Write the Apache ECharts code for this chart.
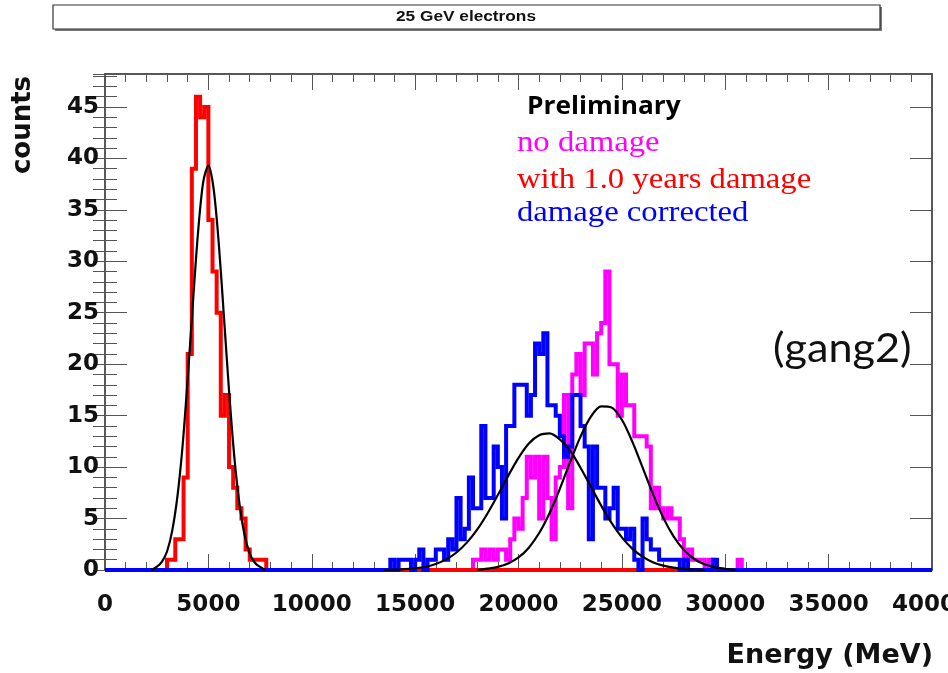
<!DOCTYPE html>
<html><head><meta charset="utf-8">
<script src="https://cdn.jsdelivr.net/npm/echarts/dist/echarts.min.js"></script>
<style>html,body{margin:0;padding:0;background:#fff}#c{width:948px;height:673px}</style>
</head><body><div id="c"></div>
<script>
// ---- data ----
const binWidth = 200;            // MeV per histogram bin
const xTicks = [0, 5000, 10000, 15000, 20000, 25000, 30000, 35000, 40000];
const yTicks = [0, 5, 10, 15, 20, 25, 30, 35, 40, 45];

// "with 1.0 years damage" (red), first bin starts at 3000 MeV
const redStart = 3000;
const redCounts = [1,1,3,3,9,21,39,46,44,45,34,29,25,15,17,10,8,6,5,2,1,1,1,1];

// "no damage" (magenta), first bin starts at 17800 MeV
const magentaStart = 17800;
const magentaCounts = [1,1,2,1,2,1,2,2,1,3,5,4,7,11,9,11,5,11,7,3,9,10,17,6,19,21,17,22,22,19,23,24,29,20,20,15,19,16,16,13,13,13,12,6,8,6,5,6,5,5,3,1,2,1,1,1,0,1,0,0,0,0,0,0,1];

// "damage corrected" (blue), first bin starts at 13800 MeV
const blueStart = 13800;
const blueCounts = [1,0,1,1,1,0,1,2,0,1,1,2,2,1,3,2,7,3,4,9,6,6,14,7,7,12,10,5,14,14,18,18,18,15,17,22,21,23,16,16,15,13,11,12,17,17,14,12,3,12,8,8,5,6,8,4,4,3,4,1,0,5,3,2,2,1,1,1,1,1,0,1,0,0,0,0,0,0,1];

// Gaussian fit curves (black)
const redFitX = [2250,2500,2750,3000,3250,3500,3750,4000,4250,4500,4750,5000,5250,5500,5750,6000,6250,6500,6750,7000,7250,7500,7750];
const redFitY = [0,0.3,0.8,1.8,3.8,7.1,12.0,18.6,25.9,32.8,37.7,39.3,37.1,31.8,24.7,17.4,11.1,6.5,3.4,1.6,0.7,0.3,0];
const blueFitX = [13500,14000,14500,15000,15500,16000,16500,17000,17500,18000,18500,19000,19500,20000,20500,21000,21500,22000,22500,23000,23500,24000,24500,25000,25500,26000,26500,27000,27500,28000,28500,29000];
const blueFitY = [0,0.04,0.08,0.17,0.32,0.59,1.03,1.7,2.66,3.92,5.49,7.28,9.15,10.9,12.3,13.1,13.27,12.7,11.6,9.94,8.1,6.26,4.58,3.17,2.08,1.3,0.76,0.43,0.23,0.11,0.05,0];
const magFitX = [18000,18500,19000,19500,20000,20500,21000,21500,22000,22500,23000,23500,24000,24500,25000,25500,26000,26500,27000,27500,28000,28500,29000,29500,30000,30500];
const magFitY = [0,0.14,0.31,0.64,1.22,2.17,3.59,5.52,7.89,10.5,12.96,14.9,15.9,15.8,14.6,12.5,9.97,7.39,5.09,3.26,1.94,1.07,0.55,0.26,0.12,0];

const xMin = 0, xMax = 40000, yMin = 0, yMax = 48.2;

// ---- build step-histogram data over the full axis range ----
function histData(start, counts) {
  const out = [];
  const nBins = Math.round((xMax - xMin) / binWidth);
  for (let i = 0; i < nBins; i++) {
    const e = xMin + i * binWidth;
    const k = Math.round((e - start) / binWidth);
    const v = (k >= 0 && k < counts.length) ? counts[k] : 0;
    out.push([e, v]);
  }
  out.push([xMax, 0]);
  return out;
}
function pairs(xs, ys) { return xs.map((x, i) => [x, ys[i]]); }

const chart = echarts.init(document.getElementById('c'), null, {renderer: 'canvas'});
const frameLine = {show: true, onZero: false, lineStyle: {color: '#222', width: 1.5}};
const tickStyle = {color: '#555', width: 1};
const labelFont = {fontFamily: 'DejaVu Sans', fontWeight: 'bold', fontSize: 23, color: '#111'};

const hist = (name, color, data) => ({
  name, type: 'line', step: 'end', data, showSymbol: false, symbol: 'none',
  xAxisIndex: 0, yAxisIndex: 0, clip: true,
  lineStyle: {color, width: 4, join: 'miter'}, itemStyle: {color}
});
const fit = (name, data) => ({
  name, type: 'line', data, smooth: 0.3, showSymbol: false, symbol: 'none',
  xAxisIndex: 0, yAxisIndex: 0, clip: true,
  lineStyle: {color: '#000', width: 2.2}, itemStyle: {color: '#000'}
});

const option = {
  animation: false,
  backgroundColor: '#fff',
  grid: {left: 105, right: 16, top: 74, bottom: 103, containLabel: false, outerBoundsMode: 'none'},
  xAxis: [
    {type: 'value', position: 'bottom', min: xMin, max: xMax, interval: 5000,
     axisLine: frameLine,
     axisTick: {show: true, inside: true, length: 16, lineStyle: tickStyle},
     minorTick: {show: true, splitNumber: 5, length: 8, lineStyle: tickStyle},
     axisLabel: Object.assign({margin: 24, hideOverlap: false, formatter: v => xTicks.includes(v) ? String(v) : ''}, labelFont),
     splitLine: {show: false}, minorSplitLine: {show: false}},
    {type: 'value', position: 'top', min: xMin, max: xMax, interval: 5000,
     axisLine: frameLine,
     axisTick: {show: true, inside: true, length: 16, lineStyle: tickStyle},
     minorTick: {show: true, splitNumber: 5, length: 8, lineStyle: tickStyle},
     axisLabel: {show: false}, splitLine: {show: false}}
  ],
  yAxis: [
    {type: 'value', position: 'left', min: yMin, max: yMax, interval: 5,
     axisLine: frameLine,
     axisTick: {show: true, inside: true, length: 22, lineStyle: tickStyle},
     axisLabel: Object.assign({margin: 6, showMaxLabel: false, formatter: v => yTicks.includes(v) ? String(v) : ''}, labelFont),
     splitLine: {show: false}},
    {type: 'value', position: 'right', min: yMin, max: yMax, interval: 5,
     axisLine: frameLine,
     axisTick: {show: true, inside: true, length: 22, lineStyle: tickStyle},
     axisLabel: {show: false}, splitLine: {show: false}},
    {type: 'value', position: 'left', min: yMin, max: yMax, interval: 1,
     axisLine: {show: false},
     axisTick: {show: true, inside: true, length: 12, lineStyle: tickStyle},
     axisLabel: {show: false}, splitLine: {show: false}},
    {type: 'value', position: 'right', min: yMin, max: yMax, interval: 1,
     axisLine: {show: false},
     axisTick: {show: true, inside: true, length: 12, lineStyle: tickStyle},
     axisLabel: {show: false}, splitLine: {show: false}}
  ],
  series: [
    hist('no damage', '#ff00ff', histData(magentaStart, magentaCounts)),
    hist('with 1.0 years damage', '#ff0000', histData(redStart, redCounts)),
    hist('damage corrected', '#0000ff', histData(blueStart, blueCounts)),
    fit('fit no damage', pairs(magFitX, magFitY)),
    fit('fit damaged', pairs(redFitX, redFitY)),
    fit('fit corrected', pairs(blueFitX, blueFitY))
  ],
  graphic: [
    {type: 'rect', shape: {x: 55, y: 7, width: 827, height: 24}, style: {fill: '#777'}, z: 1},
    {type: 'rect', shape: {x: 53, y: 5, width: 827, height: 24}, style: {fill: '#fff', stroke: '#333', lineWidth: 1.2}, z: 2},
    {type: 'text', x: 466, y: 17, scaleX: 1.15, z: 3,
     style: {text: '25 GeV electrons', font: 'bold 15px "Liberation Sans"', fill: '#111', align: 'center', verticalAlign: 'middle'}},
    {type: 'text', x: 23, y: 125, rotation: Math.PI / 2, z: 3,
     style: {text: 'counts', font: 'bold 26px "DejaVu Sans"', fill: '#111', align: 'center', verticalAlign: 'middle'}},
    {type: 'text', x: 933, y: 656, z: 3,
     style: {text: 'Energy (MeV)', font: 'bold 27px "DejaVu Sans"', fill: '#111', align: 'right', verticalAlign: 'middle'}},
    {type: 'text', x: 527, y: 107, scaleX: 1.05, z: 3,
     style: {text: 'Preliminary', font: 'bold 25px "Open Sans"', fill: '#000', align: 'left', verticalAlign: 'middle'}},
    {type: 'text', x: 517, y: 143, scaleX: 1.09, z: 3,
     style: {text: 'no damage', font: '30px "Liberation Serif"', fill: '#ff00ff', align: 'left', verticalAlign: 'middle'}},
    {type: 'text', x: 517, y: 180, scaleX: 1.09, z: 3,
     style: {text: 'with 1.0 years damage', font: '30px "Liberation Serif"', fill: '#ff0000', align: 'left', verticalAlign: 'middle'}},
    {type: 'text', x: 517, y: 213, scaleX: 1.09, z: 3,
     style: {text: 'damage corrected', font: '30px "Liberation Serif"', fill: '#0000ff', align: 'left', verticalAlign: 'middle'}},
    {type: 'text', x: 773, y: 349, scaleX: 1.08, z: 3,
     style: {text: '(gang2)', font: '40px Lato', fill: '#111', align: 'left', verticalAlign: 'middle'}}
  ]
};
chart.setOption(option);
</script></body></html>
